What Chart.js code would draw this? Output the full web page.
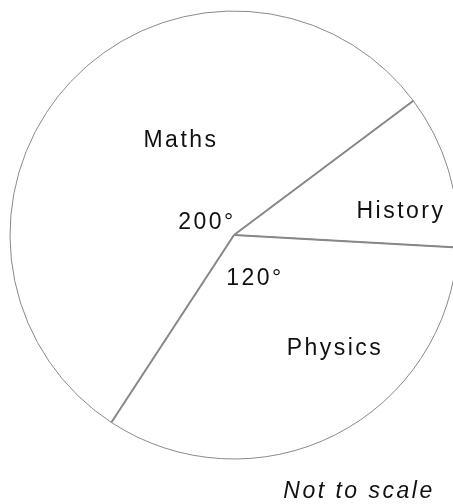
<!DOCTYPE html>
<html>
<head>
<meta charset="utf-8">
<script src="https://cdn.jsdelivr.net/npm/chart.js@4.4.1/dist/chart.umd.min.js"></script>
<style>
  html, body { margin: 0; padding: 0; background: #fff; overflow: hidden; }
  .wrap { width: 470px; height: 504px; }
</style>
</head>
<body>
<div class="wrap"><canvas id="pieChart" width="470" height="504"></canvas></div>
<script>
// 과목별 각도 (도)
const subjects = ['Maths', 'History', 'Physics'];
const degrees = [200, 40, 120];
// 각도를 표시하는 과목
const degreeShown = ['Maths', 'Physics'];
const footNote = 'Not to scale';

// 라벨 위치 (원 중심 기준 오프셋)
const namePos = { Maths: [-53, -88], History: [167, -17], Physics: [101, 120] };
const degPos = { Maths: [-27, -6], Physics: [21, 50] };
const notePos = [125, 263];

const labelFont = '23px "Liberation Sans", Arial, sans-serif';

// 중심에서 뻗는 구분선 + 텍스트
const pieLabels = {
    id: 'pieLabels',
    afterDatasetsDraw(chart) {
        const ctx = chart.ctx;
        const arcs = chart.getDatasetMeta(0).data;
        if (!arcs.length) return;
        const cx = arcs[0].x, cy = arcs[0].y;

        ctx.save();
        ctx.strokeStyle = '#888888';
        ctx.lineWidth = 2;
        arcs.forEach(function(arc) {
            const r = arc.outerRadius;
            ctx.beginPath();
            ctx.moveTo(cx, cy);
            ctx.lineTo(cx + Math.cos(arc.startAngle) * r, cy + Math.sin(arc.startAngle) * r);
            ctx.stroke();
        });

        ctx.fillStyle = '#111111';
        ctx.font = labelFont;
        ctx.letterSpacing = '2.5px';
        ctx.textAlign = 'center';
        ctx.textBaseline = 'alphabetic';
        subjects.forEach(function(name, i) {
            const p = namePos[name];
            ctx.fillText(name, cx + p[0], cy + p[1]);
            if (degreeShown.includes(name)) {
                const d = degPos[name];
                ctx.fillText(degrees[i] + '°', cx + d[0], cy + d[1]);
            }
        });

        ctx.font = 'italic ' + labelFont;
        ctx.fillText(footNote, cx + notePos[0], cy + notePos[1]);
        ctx.restore();
    }
};

new Chart(document.getElementById('pieChart'), {
    type: 'pie',
    data: {
        labels: subjects,
        datasets: [{
            data: degrees,
            backgroundColor: '#ffffff',
            borderColor: '#8a8a8a',
            borderWidth: 1,
            hoverOffset: 0
        }]
    },
    options: {
        responsive: false,
        animation: false,
        rotation: 213.2,
        radius: 224,
        events: [],
        layout: { padding: { left: 10, right: 12, top: 11, bottom: 45 } },
        plugins: {
            legend: { display: false },
            tooltip: { enabled: false }
        }
    },
    plugins: [pieLabels]
});
</script>
</body>
</html>
